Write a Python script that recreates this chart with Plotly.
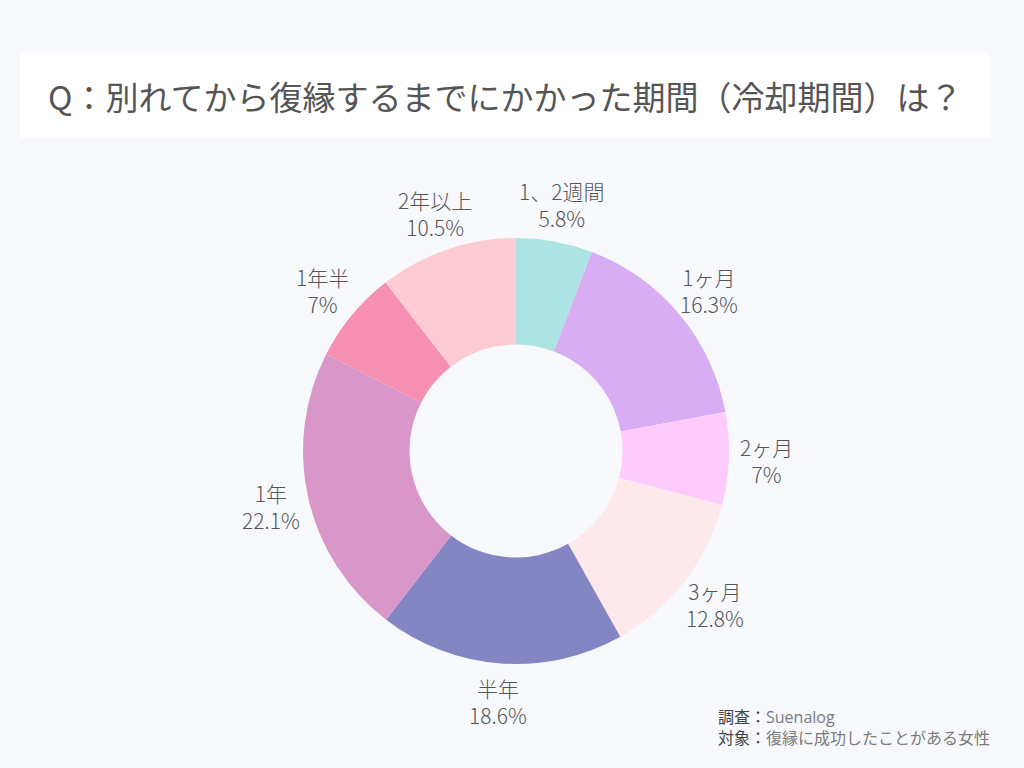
import math
import plotly.graph_objects as go

categories = ["1、2週間", "1ヶ月", "2ヶ月", "3ヶ月", "半年", "1年", "1年半", "2年以上"]
values = [5.8, 16.3, 7, 12.8, 18.6, 22.1, 7, 10.5]
colors = ["#ade3e2", "#d9adf3", "#fdccfd", "#fde8ec", "#8386c3", "#d997c9", "#f78fb3", "#fdcbd4"]
title_text = "Q：別れてから復縁するまでにかかった期間（冷却期間）は？"
note_heads = ["調査：", "対象："]
note_bodies = ["Suenalog", "復縁に成功したことがある女性"]

W, H = 1024, 768
font_family = "Noto Sans CJK JP, Noto Sans, sans-serif"
label_color = "#555555"

cx, cy, r = 516, 451, 213   # donut centre and radius (px)
label_r = 251               # label centre distance (px)

fig = go.Figure(go.Pie(
    labels=categories,
    values=values,
    hole=0.5,
    sort=False,
    direction="clockwise",
    rotation=0,
    marker=dict(colors=colors, line=dict(width=0)),
    textinfo="none",
    hoverinfo="label+value",
    showlegend=False,
    domain=dict(x=[(cx - r) / W, (cx + r) / W], y=[(H - cy - r) / H, (H - cy + r) / H]),
))

# labels outside the ring, placed at each slice's mid angle
total = sum(values)
cum = 0.0
for lab, v in zip(categories, values):
    mid = (cum + v / 2) / total * 2 * math.pi
    cum += v
    px = cx + label_r * math.sin(mid)
    py = cy - label_r * math.cos(mid)
    fig.add_annotation(text=f"{lab}<br>{v:g}%", xref="paper", yref="paper",
                       x=px / W, y=1 - py / H, xanchor="center", yanchor="middle",
                       showarrow=False, align="center",
                       font=dict(size=21, color=label_color, family=font_family, weight=300))

fig.add_shape(type="rect", xref="paper", yref="paper",
              x0=20 / W, x1=990 / W, y0=1 - 138 / H, y1=1 - 53 / H,
              fillcolor="white", line=dict(width=0), layer="below")
fig.add_annotation(text=title_text, xref="paper", yref="paper",
                   x=505 / W, y=1 - 96 / H, xanchor="center", yanchor="middle",
                   showarrow=False, font=dict(size=33, color="#555555", family=font_family))

note = "<br>".join(
    f"<span style='color:#444444'>{h}</span><span style='color:#7a7a7a'>{b}</span>"
    for h, b in zip(note_heads, note_bodies)
)
fig.add_annotation(text=note, xref="paper", yref="paper",
                   x=716 / W, y=1 - 704 / H, xanchor="left", yanchor="top", align="left",
                   showarrow=False,
                   font=dict(size=16, color="#555555", family="Open Sans, Noto Sans CJK JP, sans-serif"))

fig.update_layout(
    width=W, height=H,
    margin=dict(l=0, r=0, t=0, b=0),
    paper_bgcolor="#f7f9fd",
    plot_bgcolor="#f7f9fd",
)
fig.write_html("out.html", config={"displayModeBar": False},
               post_script="document.body.style.margin='0';")
